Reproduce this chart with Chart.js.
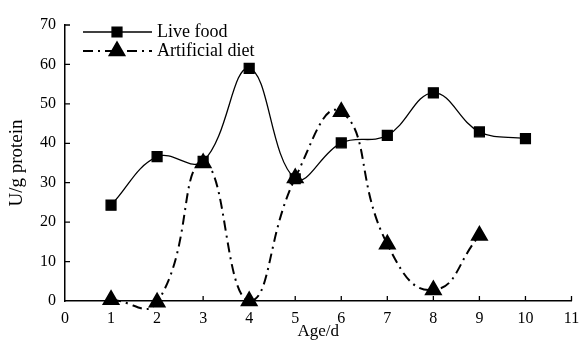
<!DOCTYPE html>
<html>
<head>
<meta charset="utf-8">
<script src="https://cdn.jsdelivr.net/npm/chart.js@4"></script>
<style>
  html, body { margin: 0; padding: 0; background: #fff; }
  #wrap { width: 582px; height: 342px; }
</style>
</head>
<body>
<div id="wrap"><canvas id="myChart"></canvas></div>
<script>
const ages = [1, 2, 3, 4, 5, 6, 7, 8, 9, 10];
const liveFood = [24.3, 36.6, 35.4, 59, 31, 40.1, 42, 52.8, 42.9, 41.2];
const artificialDiet = [0.3, -0.3, 35, 0, 31.2, 48, 14.4, 2.8, 16.6];
const xTicks = [0, 1, 2, 3, 4, 5, 6, 7, 8, 9, 10, 11];
const yTicks = [0, 10, 20, 30, 40, 50, 60, 70];

const serif = "'Liberation Serif', 'Times New Roman', serif";

// ticks drawn inward + legend with line and marker
const decorations = {
  id: "decorations",
  afterDraw(chart) {
    const ctx = chart.ctx;
    const x = chart.scales.x, y = chart.scales.y;
    ctx.save();
    ctx.strokeStyle = "#000";
    ctx.lineWidth = 1.3;
    ctx.beginPath();
    xTicks.forEach(v => {
      if (v === 0) return;
      const px = x.getPixelForValue(v);
      ctx.moveTo(px, y.bottom);
      ctx.lineTo(px, y.bottom - 5);
    });
    yTicks.forEach(v => {
      if (v === 0) return;
      const py = y.getPixelForValue(v);
      ctx.moveTo(x.left, py);
      ctx.lineTo(x.left + 5, py);
    });
    ctx.stroke();

    // legend
    const rows = [{ ds: chart.data.datasets[0], yy: 32 }, { ds: chart.data.datasets[1], yy: 51 }];
    rows.forEach(r => {
      ctx.beginPath();
      ctx.lineWidth = r.ds.borderWidth;
      ctx.setLineDash(r.ds.borderDash || []);
      ctx.moveTo(83, r.yy);
      ctx.lineTo(152, r.yy);
      ctx.stroke();
      ctx.setLineDash([]);
      ctx.fillStyle = "#000";
      Chart.helpers.drawPoint(ctx, { pointStyle: r.ds.pointStyle, radius: r.ds.pointRadius, borderWidth: 1 }, 117, r.yy);
      ctx.fillStyle = "#000";
      ctx.font = "18px " + serif;
      ctx.textBaseline = "middle";
      ctx.fillText(r.ds.label, 157, r.yy);
    });
    ctx.restore();
  }
};

const config = {
  type: "line",
  data: {
    datasets: [
      {
        label: "Live food",
        data: ages.map((a, i) => ({ x: a, y: liveFood[i] })),
        borderColor: "#000",
        backgroundColor: "#000",
        borderWidth: 1.3,
        pointStyle: "rect",
        pointRadius: 7,
        tension: 0.4,
      },
      {
        label: "Artificial diet",
        data: ages.slice(0, artificialDiet.length).map((a, i) => ({ x: a, y: artificialDiet[i] })),
        borderColor: "#000",
        backgroundColor: "#000",
        borderWidth: 2,
        borderDash: [10, 5, 2, 5],
        pointStyle: "triangle",
        pointRadius: 8.5,
        tension: 0.5,
        clip: false,
      },
    ],
  },
  options: {
    responsive: true,
    maintainAspectRatio: false,
    animation: false,
    layout: { padding: { top: 25, right: 0, left: 6 } },
    plugins: { legend: { display: false }, tooltip: { enabled: false } },
    scales: {
      x: {
        type: "linear",
        min: 0,
        max: 11,
        afterBuildTicks: s => { s.ticks = xTicks.map(v => ({ value: v })); },
        grid: { display: false },
        border: { color: "#000", width: 1.5 },
        ticks: { color: "#000", font: { family: serif, size: 16 }, padding: 0, maxRotation: 0 },
        title: { display: true, text: "Age/d", color: "#000", font: { family: serif, size: 17 }, padding: { top: -2, bottom: 0 } },
        afterFit: s => { s.height = 41; },
      },
      y: {
        min: 0,
        max: 70,
        afterBuildTicks: s => { s.ticks = yTicks.map(v => ({ value: v })); },
        grid: { display: false },
        border: { color: "#000", width: 1.5 },
        ticks: { color: "#000", font: { family: serif, size: 16 }, padding: 1 },
        title: { display: true, text: "U/g protein", color: "#000", font: { family: serif, size: 19 }, padding: { top: 0, bottom: 2 } },
        afterFit: s => { s.width = 59; },
      },
    },
  },
  plugins: [decorations],
};

var myChart = new Chart(document.getElementById("myChart"), config);
</script>
</body>
</html>
